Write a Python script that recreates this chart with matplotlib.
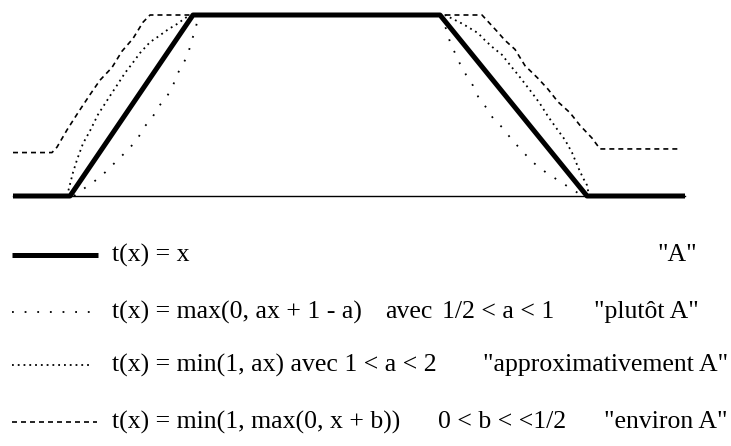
import matplotlib.pyplot as plt

# universe positions (x) and membership degrees (mu) of each fuzzy set
a_x = [13, 70, 193, 440, 587, 685]
a_mu = [0.0, 0.0, 1.0, 1.0, 0.0, 0.0]

# "plutôt A" : narrower, curved sides
plutot_x = [74, 78, 92, 105, 116, 127, 137, 144, 152, 158, 167, 173, 177, 183, 188, 191, 195, 197, 199,
            440, 442, 447, 450, 455, 460, 466, 473, 478, 486, 493, 502, 512, 522, 532, 546, 560, 577, 582]
plutot_mu = [0.0, 0.02, 0.07, 0.13, 0.19, 0.25, 0.31, 0.38, 0.43, 0.49, 0.55, 0.61, 0.67, 0.73, 0.78, 0.85, 0.91, 0.96, 1.0,
             1.0, 0.98, 0.91, 0.85, 0.79, 0.73, 0.67, 0.61, 0.55, 0.49, 0.43, 0.38, 0.31, 0.25, 0.19, 0.13, 0.08, 0.02, 0.0]

# "approximativement A" : wider, curved sides
approx_x = [67, 73, 77, 83, 90, 98, 105, 112, 118, 125, 132, 140, 150, 158, 168, 177, 187, 195,
            445, 463, 472, 478, 485, 493, 502, 512, 518, 525, 532, 540, 548, 557, 565, 572, 578, 583, 587, 589]
approx_mu = [0.0, 0.13, 0.20, 0.29, 0.36, 0.45, 0.51, 0.57, 0.62, 0.68, 0.73, 0.79, 0.85, 0.88, 0.92, 0.95, 0.99, 1.0,
             1.0, 0.95, 0.92, 0.90, 0.86, 0.82, 0.78, 0.71, 0.67, 0.62, 0.57, 0.51, 0.44, 0.37, 0.31, 0.24, 0.16, 0.10, 0.06, 0.0]

# "environ A" : shifted up by b
environ_x = [13, 52, 57, 67, 78, 90, 100, 112, 122, 133, 143, 150,
             482, 492, 497, 505, 515, 525, 538, 548, 558, 570, 580, 592, 600, 678]
environ_mu = [0.24, 0.24, 0.27, 0.365, 0.46, 0.56, 0.64, 0.71, 0.80, 0.87, 0.96, 1.0,
              1.0, 0.94, 0.91, 0.86, 0.81, 0.72, 0.65, 0.59, 0.52, 0.46, 0.39, 0.32, 0.26, 0.26]

base_x = [13, 685]
base_mu = [0.0, 0.0]

# key text, one list of (text, x) pieces per row
rows = [
    [("t(x) = x", 112), ('"A"', 657)],
    [("t(x) = max(0, ax + 1 - a)", 112), ("avec", 385), ("1/2 < a < 1", 442), ('"plutôt A"', 594)],
    [("t(x) = min(1, ax) avec 1 < a < 2", 112), ('"approximativement A"', 483)],
    [("t(x) = min(1, max(0, x + b))", 112), ("0 < b < <1/2", 438), ('"environ A"', 604)],
]

plt.rcParams["font.family"] = ["Liberation Serif", "DejaVu Serif"]

solid = dict(color="black", lw=3.6, linestyle="-", solid_capstyle="butt")
sparse = dict(color="black", lw=1.3, linestyle=(0, (1, 6)))
dense = dict(color="black", lw=1.3, linestyle=(0, (1, 2.2)))
dashed = dict(color="black", lw=1.2, linestyle=(0, (3, 2.4)))

fig = plt.figure(figsize=(7.31, 4.46), dpi=100)

# -----------------------------
# Membership functions
# -----------------------------
ax = fig.add_axes([0, (446 - 196) / 446, 1, 181 / 446])
ax.set_xlim(0, 731)
ax.set_ylim(0, 1)
ax.axis("off")

ax.plot(environ_x, environ_mu, clip_on=False, **dashed)
ax.plot(approx_x, approx_mu, clip_on=False, **dense)
ax.plot(plutot_x, plutot_mu, clip_on=False, **sparse)
ax.plot(base_x, base_mu, color="black", lw=1.0, clip_on=False)
ax.plot(a_x, a_mu, clip_on=False, **solid)

# -----------------------------
# Key
# -----------------------------
key = fig.add_axes([0, 0, 1, 1])
key.set_xlim(0, 731)
key.set_ylim(446, 0)
key.axis("off")
key.patch.set_alpha(0)

rows_y = [255, 312, 365, 422]
key_ends = [98, 90, 92, 97]
styles = [solid, sparse, dense, dashed]

for y, end, st, pieces in zip(rows_y, key_ends, styles, rows):
    key.plot([12, end], [y, y], **st)
    for txt, tx in pieces:
        key.text(tx, y, txt, fontsize=18.5, va="center", ha="left")

fig.savefig("out.png", dpi=100)
